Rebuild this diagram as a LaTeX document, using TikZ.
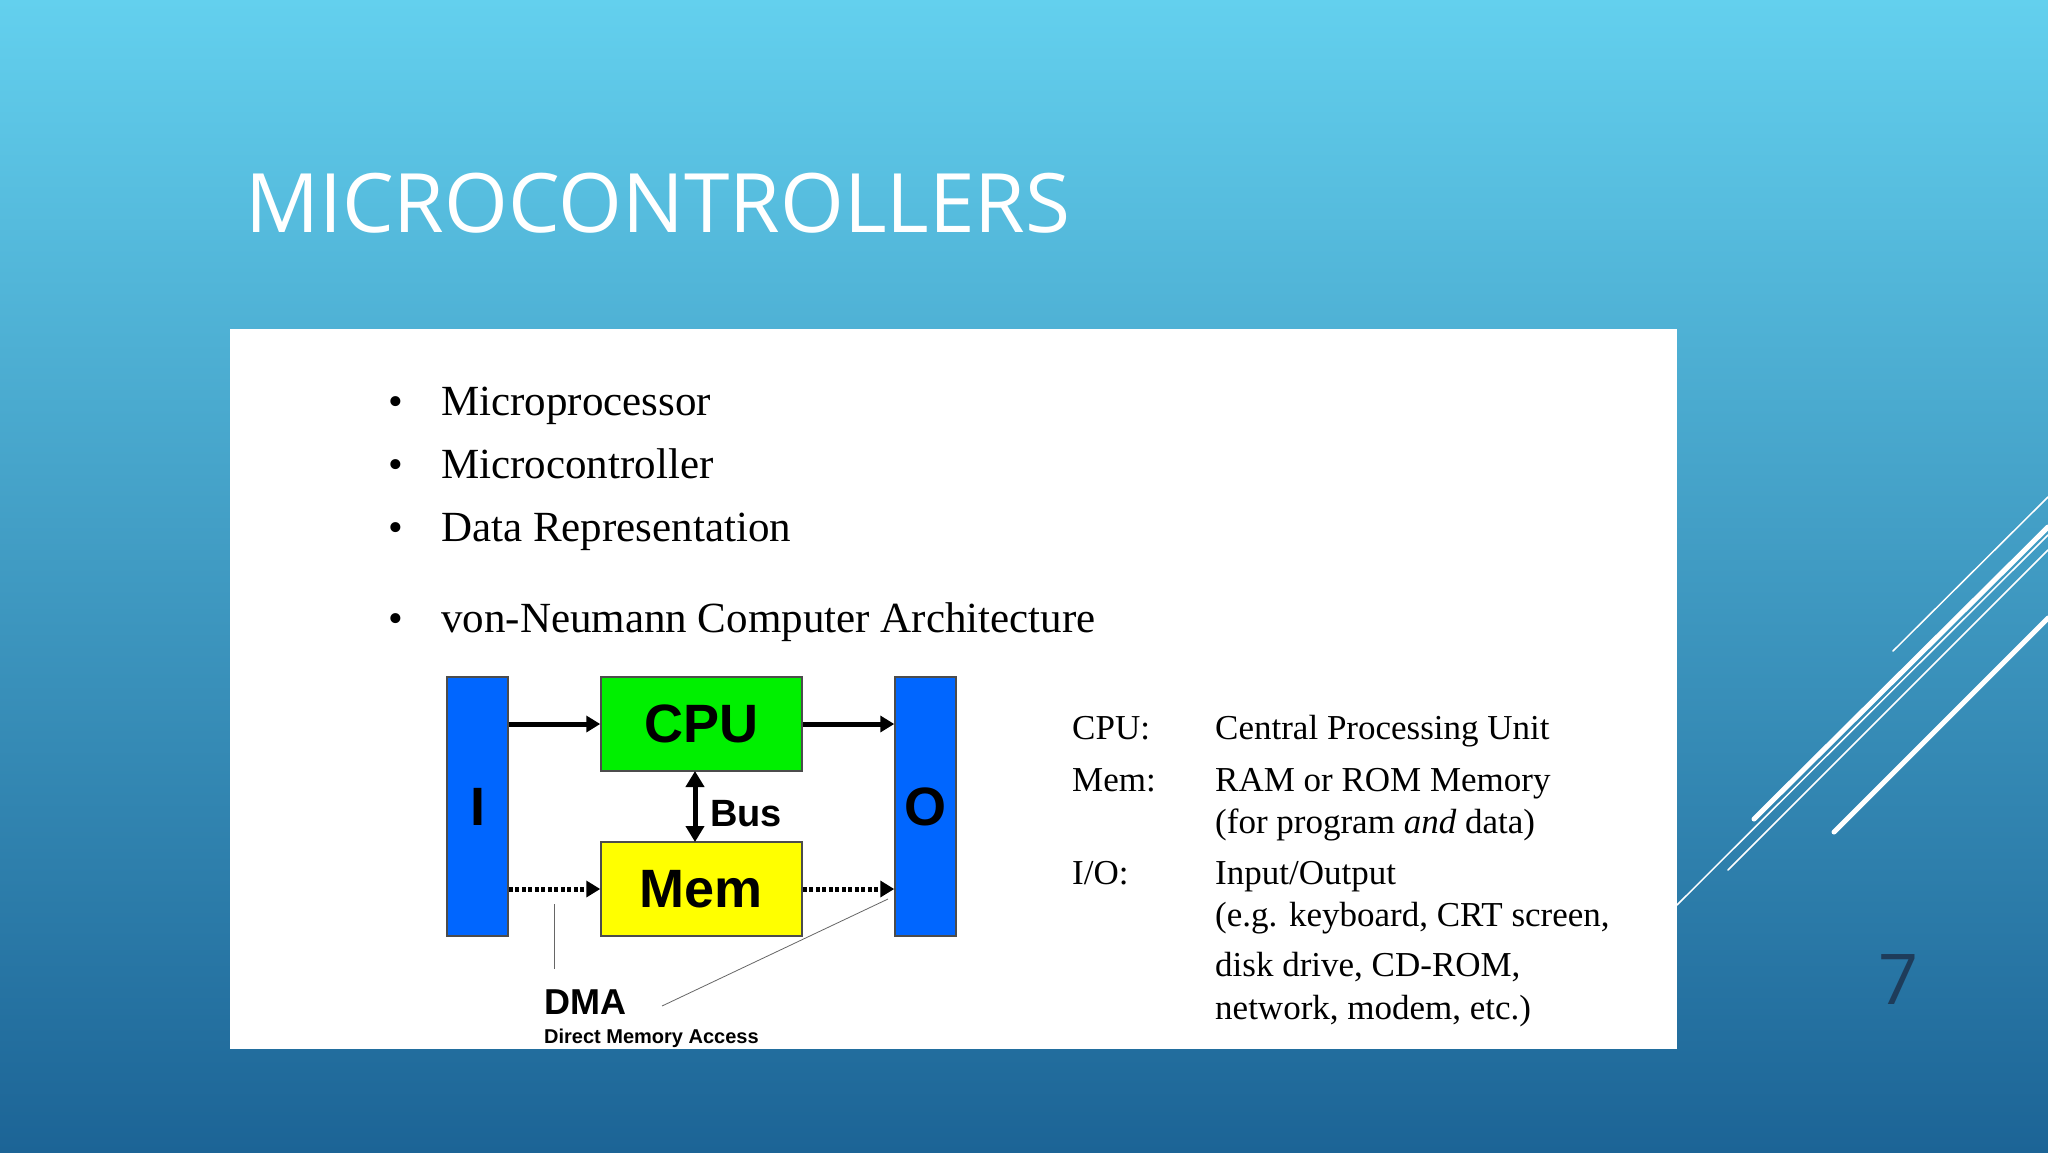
\documentclass[tikz,border=0pt]{standalone}
\usepackage{fontspec}
\setmainfont{Liberation Serif}
\newfontfamily\sansb{Liberation Sans}
\newfontfamily\titlef{Open Sans}
\usetikzlibrary{arrows.meta}
\definecolor{bgtop}{RGB}{99,208,238}
\definecolor{bgbot}{RGB}{28,100,150}
\definecolor{ioblue}{RGB}{0,102,255}
\definecolor{cpugreen}{RGB}{0,240,0}
\definecolor{memyellow}{RGB}{255,255,0}
\definecolor{numcol}{RGB}{30,60,90}
\tikzset{
  fs/.style={font=\fontsize{#1}{#1}\selectfont},
  blk/.style={draw=black!70, line width=1.5pt, inner sep=0pt},
  bold/.style={font=\sansb\bfseries\fontsize{#1}{#1}\selectfont},
  solidarr/.style={line width=5pt, -{Triangle[length=14pt,width=16pt]}},
  dotarr/.style={line width=5pt, dash pattern=on 4pt off 2.5pt, -{Triangle[length=14pt,width=16pt]}},
  deco/.style={white, line cap=round},
  leg/.style={anchor=base west, font=\fontsize{35}{35}\selectfont, inner sep=0pt}
}
\begin{document}
\begin{tikzpicture}[x=1pt,y=-1pt]
\useasboundingbox (0,0) rectangle (2048,1152);
\shade[top color=bgtop, bottom color=bgbot] (0,0) rectangle (2048,1152);
% decorative lines
\draw[deco, line width=1.5pt] (1893,651) -- (2048,497);
\draw[deco, line width=5pt] (1754,819) -- (2048,527);
\draw[deco, line width=1.5pt] (1677,905) -- (2048,535);
\draw[deco, line width=1.5pt] (1728,870) -- (2048,550);
\draw[deco, line width=5pt] (1834,832) -- (2048,618);
% title
\node[anchor=base west, inner sep=0pt, text=white, font=\titlef\fontsize{82}{82}\selectfont] (title) at (245,232) {MICROCONTROLLERS};
% panel
\fill[white] (230,329) rectangle (1677,1049);
% bullets
\foreach \y/\t [count=\i] in {415/Microprocessor,478/Microcontroller,541/Data Representation,632/von-Neumann Computer Architecture}{
  \node[anchor=base, inner sep=0pt, fs=42] (b\i) at (396,\y) {\textbullet};
  \node[anchor=base west, inner sep=0pt, fs=43] (t\i) at (441,\y) {\t};
}
% diagram
\node[blk, fill=ioblue, minimum width=61pt, minimum height=259pt, bold=54] (I) at (477.5,806.5) {I};
\node[blk, fill=ioblue, minimum width=61pt, minimum height=259pt, bold=54] (O) at (925.5,806.5) {O};
\node[blk, fill=cpugreen, minimum width=201pt, minimum height=94pt, bold=54] (CPU) at (701.5,724) {CPU};
\node[blk, fill=memyellow, minimum width=201pt, minimum height=94pt, bold=54] (Mem) at (701.5,889) {Mem};
\draw[solidarr] (I.east |- CPU.west) -- (CPU.west);
\draw[solidarr] (CPU.east) -- (O.west |- CPU.east);
\draw[dotarr] (I.east |- Mem.west) -- (Mem.west);
\draw[dotarr] (Mem.east) -- (O.west |- Mem.east);
\draw[line width=5pt, {Triangle[length=16pt,width=18pt]}-{Triangle[length=16pt,width=18pt]}] (695,771) -- (695,842);
\node[anchor=base west, inner sep=0pt, bold=38] (bus) at (710,826) {Bus};
\node[anchor=base west, inner sep=0pt, bold=36] (dma) at (544,1014) {DMA};
\node[anchor=base west, inner sep=0pt, bold=20] (dmal) at (544,1043) {Direct Memory Access};
\coordinate (v1) at (554,904);
\coordinate (v2) at (554,969);
\coordinate (d1) at (662,1006);
\coordinate (d2) at (888,899);
\draw[black!60, line width=0.8pt] (v1) -- (v2);
\draw[black!60, line width=0.8pt] (d1) -- (d2);
% legend
\node[leg] (l1) at (1072,739) {CPU:};
\node[leg] (l2) at (1215,739) {Central Processing Unit};
\node[leg] (l3) at (1072,791) {Mem:};
\node[leg] (l4) at (1215,791) {RAM or ROM Memory};
\node[leg] (l5) at (1215,833) {(for program \textit{and} data)};
\node[leg] (l6) at (1072,884) {I/O:};
\node[leg] (l7) at (1215,884) {Input/Output};
\node[leg] (l8) at (1215,926) {(e.g. keyboard, CRT screen,};
\node[leg] (l9) at (1215,976) {disk drive, CD-ROM,};
\node[leg] (l10) at (1215,1019) {network, modem, etc.)};
% page number
\node[anchor=base, inner sep=0pt, text=numcol, font=\titlef\fontsize{70}{70}\selectfont] (num) at (1898,1004) {7};
\end{tikzpicture}
\end{document}
